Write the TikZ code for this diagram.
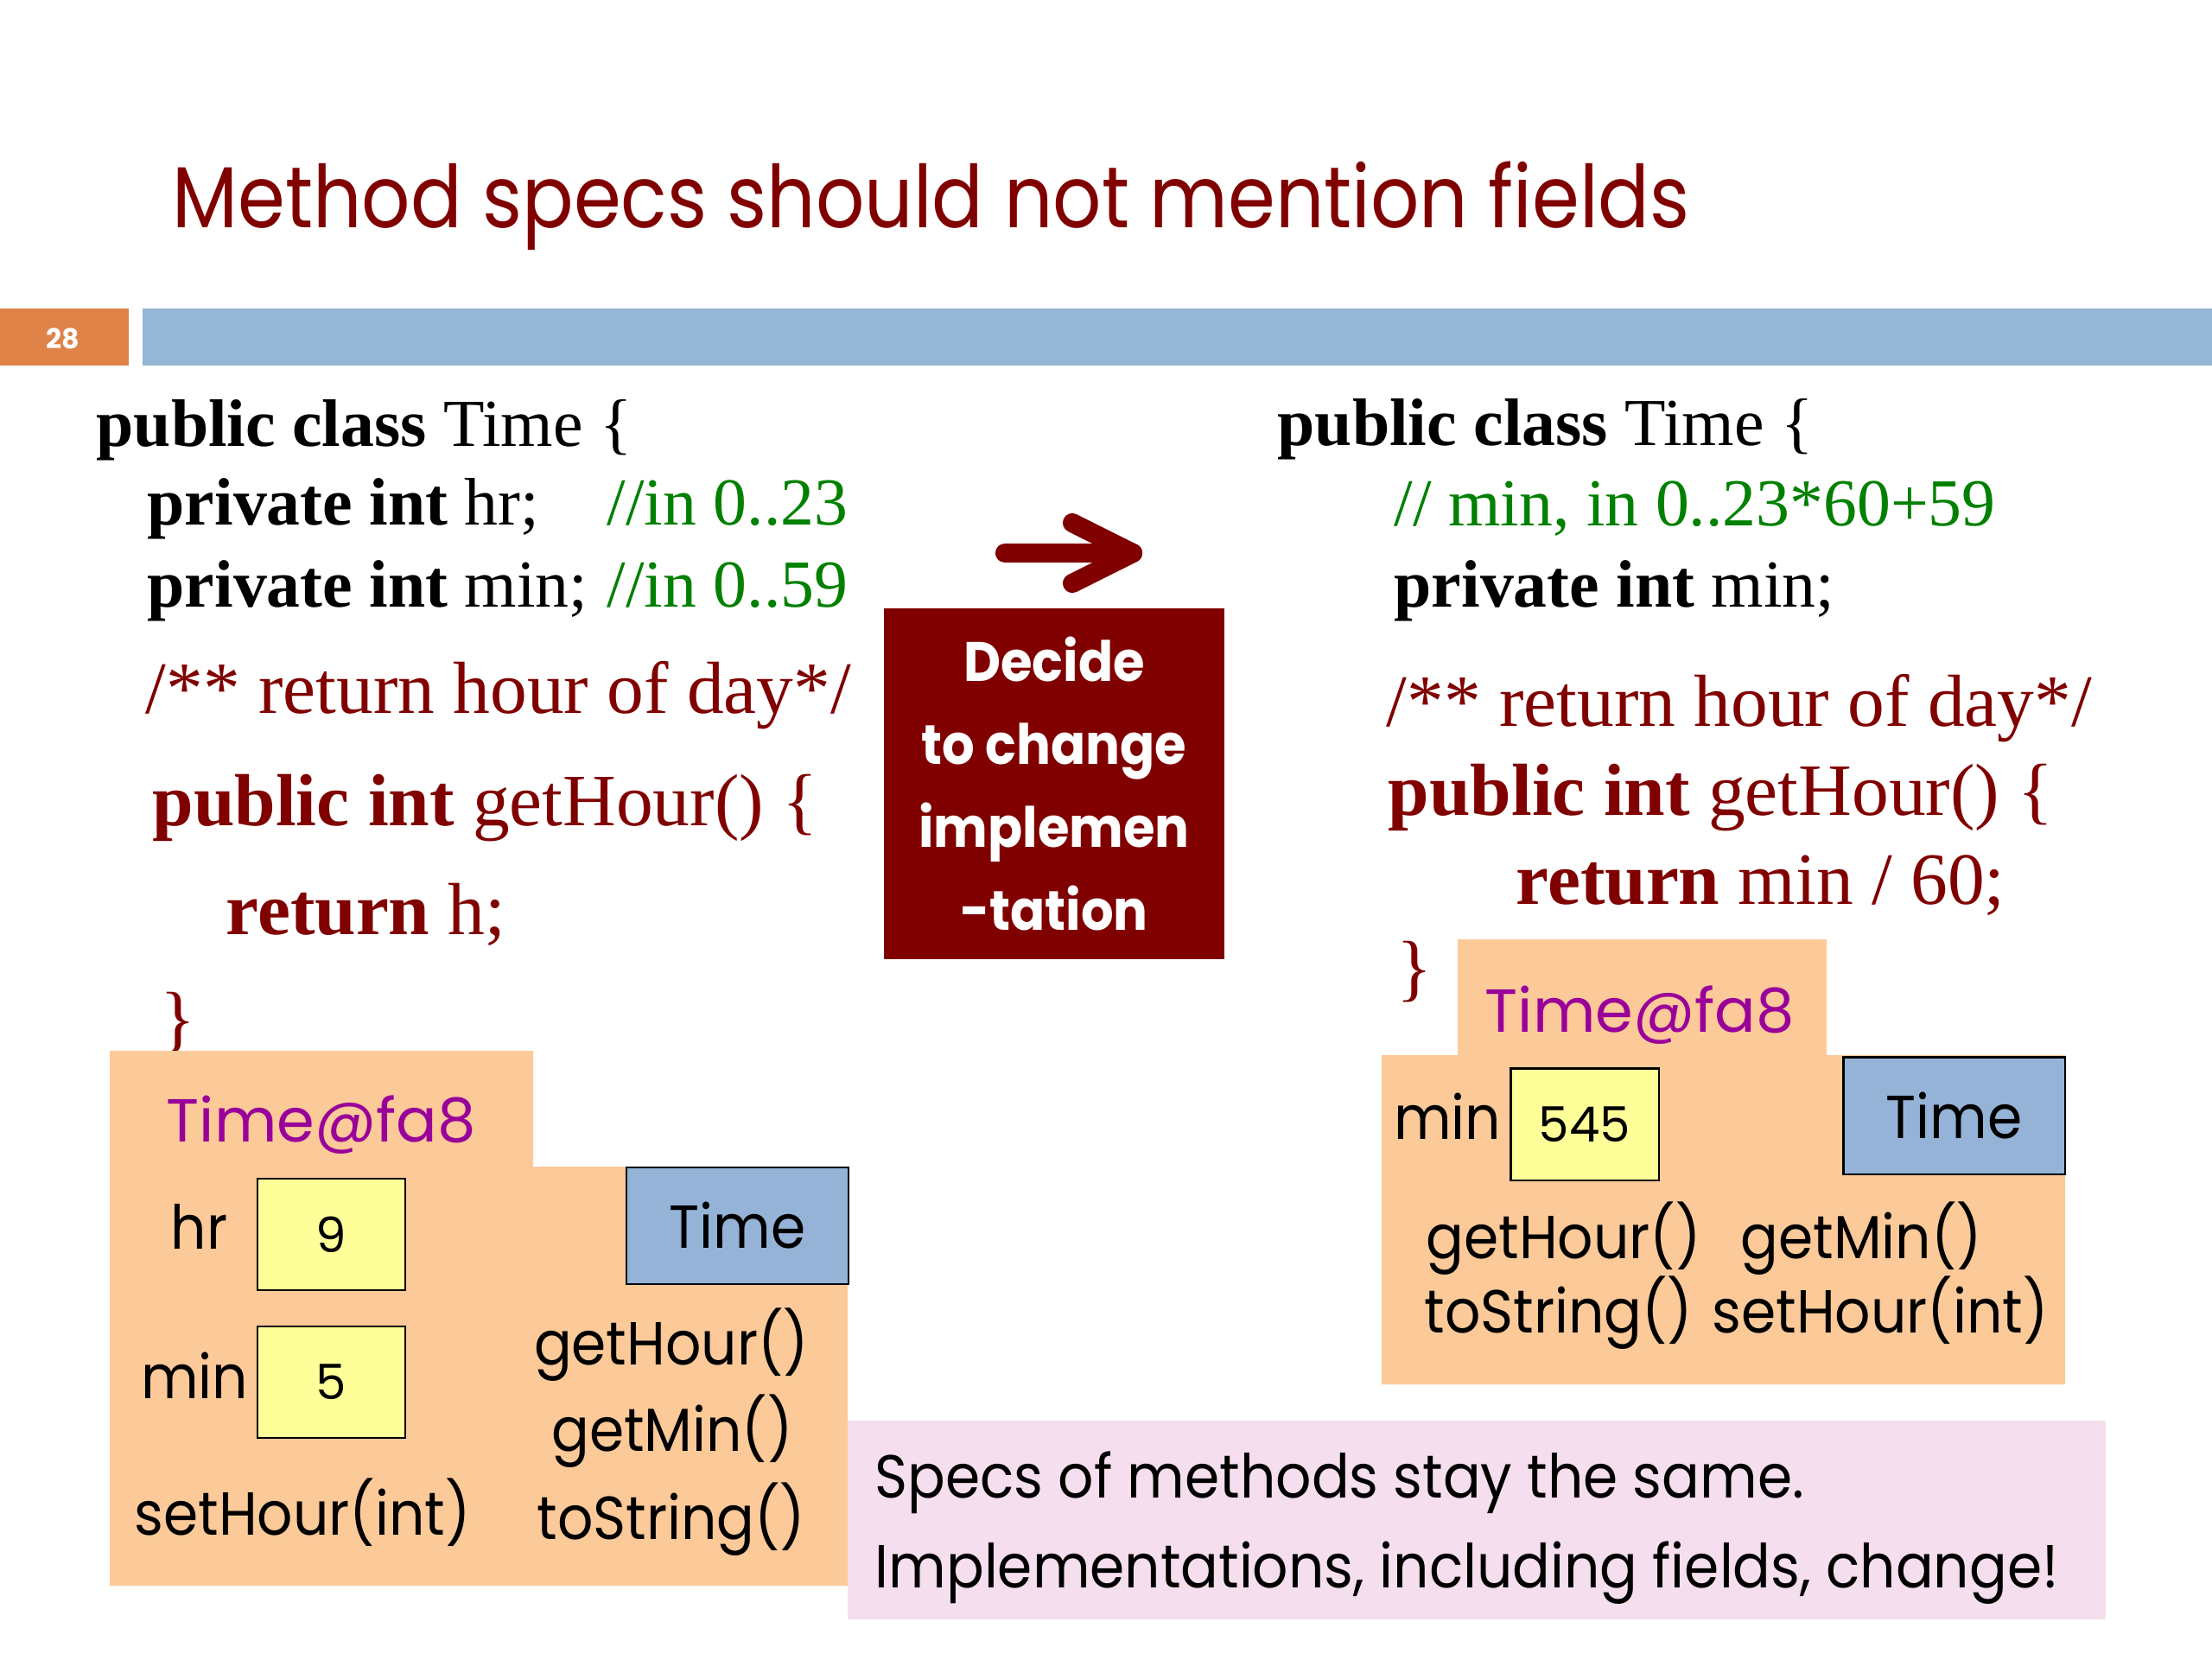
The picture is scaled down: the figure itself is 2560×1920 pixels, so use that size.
\documentclass[tikz,border=0pt]{standalone}
\usepackage{fontspec}
\usetikzlibrary{arrows.meta}
\setmainfont{Liberation Serif}
\newfontfamily\geofont{Poppins}
\newfontfamily\twfont{Poppins}[FakeStretch=0.92]
\newfontfamily\headfont{Poppins}[FakeStretch=0.88]
\definecolor{darkred}{RGB}{128,0,0}
\definecolor{codegreen}{RGB}{0,128,0}
\definecolor{objpurple}{RGB}{153,0,153}
\definecolor{peach}{RGB}{252,201,153}
\definecolor{valyellow}{RGB}{255,255,153}
\definecolor{clsblue}{RGB}{149,179,215}
\definecolor{barblue}{RGB}{149,182,212}
\definecolor{numorange}{RGB}{224,131,73}
\definecolor{notepink}{RGB}{245,222,237}

\begin{document}
\begin{tikzpicture}[x=0.01cm, y=-0.01cm, every node/.style={inner sep=0pt},
	code/.style={anchor=base west, font=\fontsize{22.1}{26}\selectfont},
	bigcode/.style={anchor=base west, text=darkred, font=\fontsize{24.3}{28}\selectfont},
	lab/.style={anchor=base west, font=\twfont\fontsize{20}{24}\selectfont},
	objname/.style={anchor=base west, text=objpurple, font=\geofont\fontsize{20}{24}\selectfont},
	val/.style={draw, line width=0.6pt, fill=valyellow, minimum width=1.71cm, minimum height=1.29cm, font=\geofont\fontsize{16}{20}\selectfont},
	cls/.style={draw, line width=0.6pt, fill=clsblue, minimum width=2.56cm, minimum height=1.35cm, font=\twfont\fontsize{20}{24}\selectfont},
	fatarrow/.style={darkred, line width=6.3pt, line cap=round, line join=round}]
	\useasboundingbox (0,0) rectangle (2560,1920);
	% heading and bar
	\node[anchor=base west, text=darkred, font=\headfont\fontsize{28.5}{34}\selectfont] (title) at (199,263) {Method specs should not mention fields};
	\fill[numorange] (0,357) rectangle (149,423);
	\fill[barblue] (165,357) rectangle (2560,423);
	\node[text=white, font=\geofont\bfseries\fontsize{9}{10}\selectfont] (pagenum) at (73,392) {28};
	% old class
	\node[code] (l1) at (111,516) {\textbf{public class} Time \{};
	\node[code] (l2) at (170,607) {\textbf{private int} hr;};
	\node[code, text=codegreen] (c2) at (702,607) {//in 0..23};
	\node[code] (l3) at (170,702) {\textbf{private int} min;};
	\node[code, text=codegreen] (c3) at (702,702) {//in 0..59};
	\node[bigcode] (l4) at (168,825) {/** return hour of day*/};
	\node[bigcode] (l5) at (176,955) {\textbf{public int} getHour() \{};
	\node[bigcode] (l6) at (261,1081) {\textbf{return} h;};
	\node[bigcode] (l7) at (185,1207) {\}};
	% new class
	\node[code] (r1) at (1478,515) {\textbf{public class} Time \{};
	\node[code, text=codegreen] (r2) at (1613,608) {// min, in 0..23*60+59};
	\node[code] (r3) at (1613,702) {\textbf{private int} min;};
	\node[bigcode] (r4) at (1604,840) {/** return hour of day*/};
	\node[bigcode] (r5) at (1606,943) {\textbf{public int} getHour() \{};
	\node[bigcode] (r6) at (1754,1046) {\textbf{return} min / 60;};
	\node[bigcode] (r7) at (1616,1148) {\}};
	% arrow and decision box
	\coordinate (arrtail) at (1163,640);
	\coordinate (arrtip) at (1311,640);
	\coordinate (barbup) at (1241,605);
	\coordinate (barbdown) at (1241,675);
	\draw[fatarrow] (arrtail) -- (arrtip);
	\draw[fatarrow] (barbup) -- (arrtip) -- (barbdown);
	\node[fill=darkred, minimum width=3.93cm, minimum height=4.05cm, text=white, align=center,
		font=\twfont\bfseries\fontsize{18.3}{27.3}\selectfont] (decide) at (1220,907) {Decide\\to change\\implemen\\-tation};
	% old object
	\fill[peach] (127,1216) -- (617,1216) -- (617,1350) -- (981,1350) -- (981,1835) -- (127,1835) -- cycle;
	\node[objname] (objL) at (192,1321) {Time@fa8};
	\node[lab, anchor=base east] (hrL) at (264,1445) {hr};
	\node[val] (hrval) at (383.5,1428.5) {9};
	\node[lab, anchor=base east] (minL) at (288,1618) {min};
	\node[val] (minval) at (383.5,1599.5) {5};
	\node[lab] (setL) at (155,1776) {setHour(int)};
	\node[cls] (clsL) at (853.5,1418.5) {Time};
	\node[lab, anchor=base] (ghL) at (777,1579) {getHour()};
	\node[lab, anchor=base] (gmL) at (778,1679) {getMin()};
	\node[lab, anchor=base] (tsL) at (777,1781) {toString()};
	% new object
	\fill[peach] (1687,1087) -- (2114,1087) -- (2114,1221) -- (2390,1221) -- (2390,1602) -- (1599,1602) -- (1599,1221) -- (1687,1221) -- cycle;
	\node[objname] (objR) at (1718,1194) {Time@fa8};
	\node[lab, anchor=base east] (minR) at (1738,1318) {min};
	\node[val] (minvalR) at (1834,1301) {545};
	\node[cls] (clsR) at (2261.5,1291) {Time};
	\node[lab] (ghR) at (1650,1456) {getHour()};
	\node[lab] (gmR) at (2014,1456) {getMin()};
	\node[lab] (tsR) at (1648,1542) {toString()};
	\node[lab] (shR) at (1981,1542) {setHour(int)};
	% note
	\fill[notepink] (981,1644) rectangle (2437,1874);
	\node[lab] (note1) at (1012,1733) {Specs of methods stay the same.};
	\node[lab] (note2) at (1012,1837) {Implementations, including fields, change!};
\end{tikzpicture}
\end{document}
